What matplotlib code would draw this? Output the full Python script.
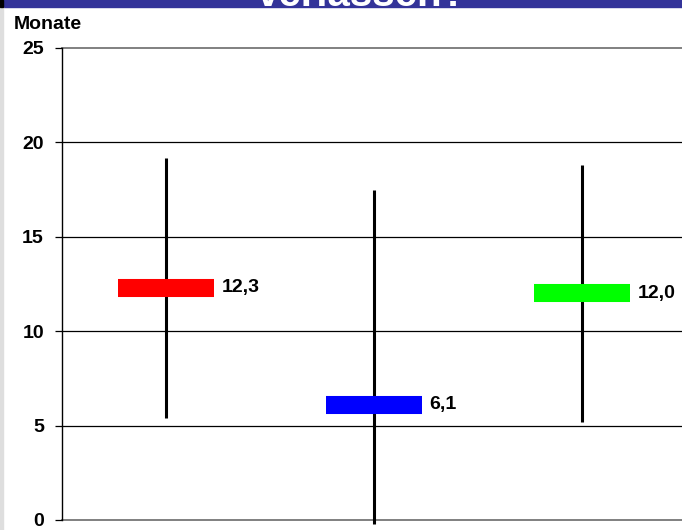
import matplotlib
matplotlib.use("Agg")
from matplotlib import pyplot as plt
from matplotlib.patches import Rectangle

plt.rcParams['font.family'] = ['Liberation Sans', 'DejaVu Sans']
plt.rcParams['font.weight'] = 'bold'

# three groups: median (bar) and range (whisker), in months
medians = [12.3, 6.1, 12.0]
lows = [5.4, -0.2, 5.2]
highs = [19.2, 17.5, 18.8]
colors = ['#ff0000', '#0000ff', '#00ff00']
labels = ['12,3', '6,1', '12,0']
yticks = [0, 5, 10, 15, 20, 25]

W, H = 682, 530
fig = plt.figure(figsize=(W / 100, H / 100), dpi=100)

# axes box in pixels: left 62, top 48, bottom 520, right a bit past the edge
ax = fig.add_axes([62 / W, 10 / H, (686 - 62) / W, 472 / H])
ax.set_xlim(0, 3)
ax.set_ylim(0, 25)

for t in yticks:
    c = '#808080' if t in (0, 25) else 'black'
    lw = 1.4 if t in (0, 25) else 0.9
    ax.axhline(t, color=c, lw=lw, zorder=1, clip_on=False)

xs = [i + 0.5 for i in range(len(medians))]
ax.vlines(xs, lows, highs, color='black', lw=2.2, zorder=2, clip_on=False)
ax.hlines(medians, [x - 0.233 for x in xs], [x + 0.233 for x in xs],
          colors=colors, lw=13, capstyle='butt', zorder=3)

for x, m, lab in zip(xs, medians, labels):
    ax.annotate(lab, (x + 0.233, m), xytext=(5, 0), textcoords='offset points',
                va='center', ha='left', fontsize=14, fontweight='bold')

for s in ['top', 'right', 'bottom']:
    ax.spines[s].set_visible(False)
ax.spines['left'].set_linewidth(1.0)
ax.set_xticks([])
ax.set_yticks(yticks)
ax.set_yticklabels([str(t) for t in yticks], fontsize=14, fontweight='bold')
ax.tick_params(axis='y', direction='out', length=5, width=0.9, pad=8)

fig.text(14 / W, 1 - 29 / H, 'Monate', fontsize=14, fontweight='bold',
         ha='left', va='baseline')

# title banner (only the lower edge of its heading shows) and left border strip
fig.patches.append(Rectangle((0, 1 - 7 / H), 1, 7 / H, transform=fig.transFigure,
                             color='#333399', zorder=0))
fig.patches.append(Rectangle((0, 0), 3 / W, 1 - 7 / H, transform=fig.transFigure,
                             color='#dedede', zorder=0))
fig.patches.append(Rectangle((0, 1 - 7 / H), 3 / W, 7 / H, transform=fig.transFigure,
                             color='black', zorder=1))
fig.text(362 / W, 1 - 5.5 / H, 'verlassen?', color='white', fontsize=29,
         fontweight='bold', ha='center', va='baseline')

fig.savefig('out.png', dpi=100)
